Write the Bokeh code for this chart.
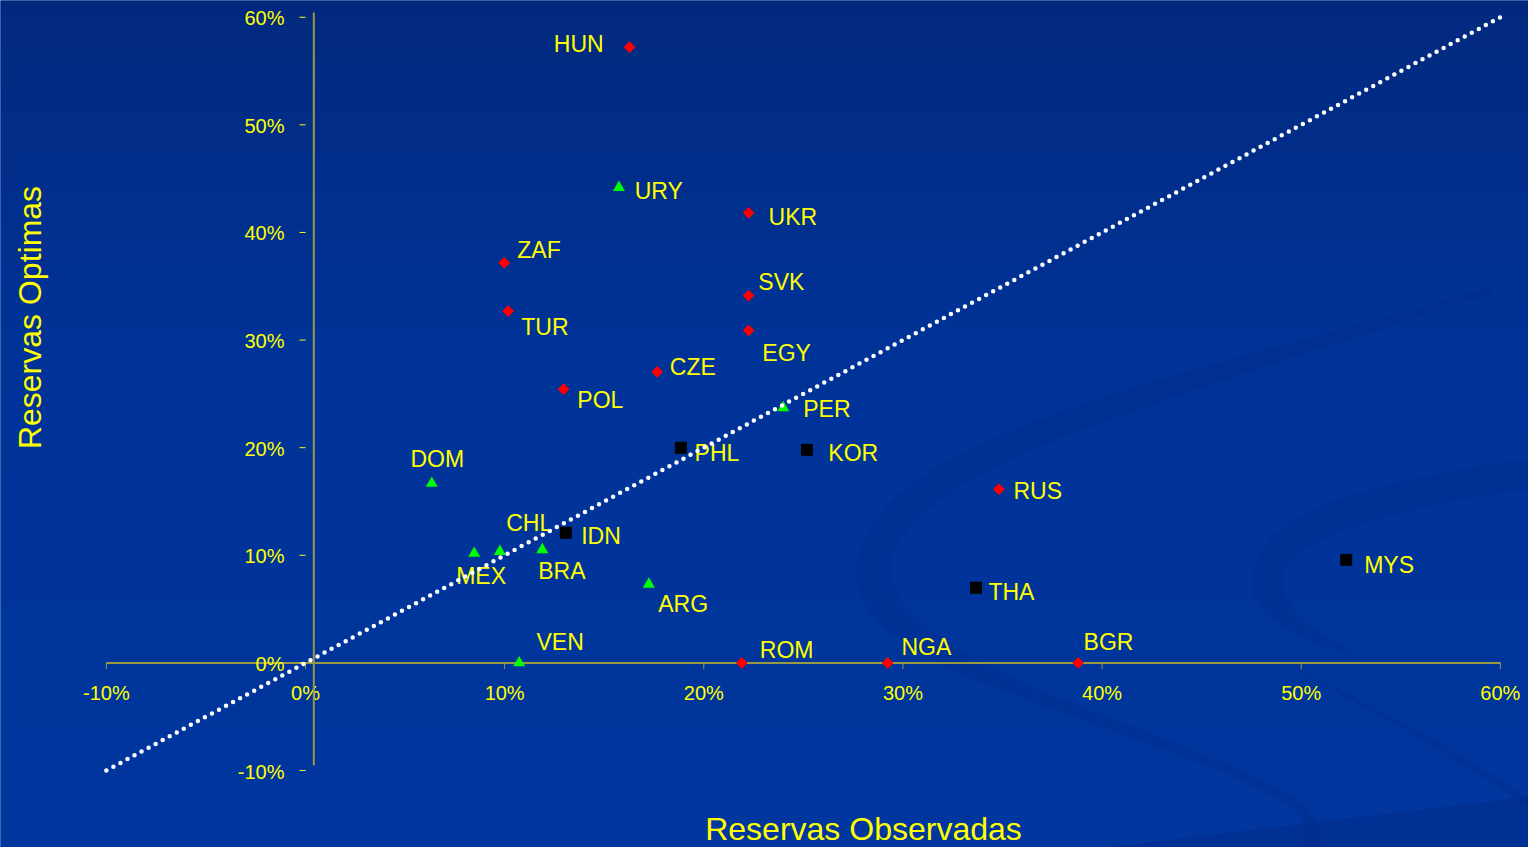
import numpy as np
from bokeh.plotting import figure
from bokeh.models import Range1d, ColumnDataSource
from bokeh.core.properties import value
from bokeh.embed import file_html
from bokeh.resources import INLINE

# Observed vs optimal reserves (% values), grouped by marker
red_codes = ["HUN", "UKR", "ZAF", "SVK", "TUR", "EGY", "CZE", "POL", "RUS", "ROM", "NGA", "BGR"]
red_obs = [16.27, 22.25, 9.98, 22.25, 10.18, 22.25, 17.66, 12.96, 34.82, 21.91, 29.23, 38.80]
red_opt = [57.22, 41.83, 37.18, 34.14, 32.69, 30.89, 27.05, 25.44, 16.14, 0.0, 0.0, 0.0]

green_codes = ["URY", "PER", "DOM", "MEX", "CHL", "BRA", "ARG", "VEN"]
green_obs = [15.74, 23.99, 6.34, 8.47, 9.76, 11.89, 17.24, 10.73]
green_opt = [44.18, 23.71, 16.68, 10.18, 10.35, 10.51, 7.31, 0.0]

black_codes = ["PHL", "KOR", "IDN", "THA", "MYS"]
black_obs = [18.85, 25.18, 13.07, 33.67, 52.26]
black_opt = [19.99, 19.80, 12.09, 6.98, 9.58]

x_ticks = [-10, 0, 10, 20, 30, 40, 50, 60]
x_tick_labels = ["-10%", "0%", "10%", "20%", "30%", "40%", "50%", "60%"]
y_ticks = [-10, 0, 10, 20, 30, 40, 50, 60]
y_tick_labels = ["-10%", "0%", "10%", "20%", "30%", "40%", "50%", "60%"]

x_title = "Reservas Observadas"
y_title = "Reservas Optimas"

# 45-degree reference line (optimal = observed)
ref_line = [-10, 60]

# ---- canvas geometry -------------------------------------------------------
W, H = 1528, 847
PX_PER_X, X0_PX = 19.914, 305.0
PX_PER_Y, Y0_PX = 10.761, 662.4
XS, XE = -X0_PX / PX_PER_X, (W - X0_PX) / PX_PER_X
YS, YE = -(H - Y0_PX) / PX_PER_Y, Y0_PX / PX_PER_Y


def px_x(px):
    return (np.asarray(px, dtype=float) - X0_PX) / PX_PER_X


def px_y(py):
    return (Y0_PX - np.asarray(py, dtype=float)) / PX_PER_Y


FONT = value("Liberation Sans")
YELLOW = "#FFFF00"
AXIS = "#9a9a44"

p = figure(width=W, height=H, x_range=Range1d(XS, XE), y_range=Range1d(YS, YE),
           output_backend="svg", toolbar_location=None,
           x_axis_type=None, y_axis_type=None, min_border=0,
           background_fill_color="#01318f", border_fill_color="#01318f",
           outline_line_color=None)

# ---- background: vertical gradient (slightly oversized to cover the edges) --
rows = np.arange(H, dtype=float)
stops_px = [0, 350, H]
stops_rgb = np.array([[2, 41, 126], [0, 51, 152], [0, 54, 158]], dtype=float)
rgb = np.stack([np.interp(rows, stops_px, stops_rgb[:, k]) for k in range(3)], axis=1)
img = np.zeros((H, 1, 4), dtype=np.uint8)
img[:, 0, :3] = rgb[::-1].round().astype(np.uint8)
img[:, 0, 3] = 255
pad_x, pad_y = 3 / PX_PER_X, 3 / PX_PER_Y
p.image_rgba(image=[img.view(np.uint32).reshape(H, 1)], x=XS - pad_x, y=YS - pad_y,
             dw=XE - XS + 2 * pad_x, dh=YE - YS + 2 * pad_y)


# ---- background: swirl ribbons ---------------------------------------------
def bez(p0, p1, p2, p3, n=80):
    t = np.linspace(0, 1, n)[:, None]
    p0, p1, p2, p3 = (np.array(v, dtype=float) for v in (p0, p1, p2, p3))
    return (1 - t) ** 3 * p0 + 3 * (1 - t) ** 2 * t * p1 + 3 * (1 - t) * t ** 2 * p2 + t ** 3 * p3


def ribbon(pts, widths):
    d = np.gradient(pts, axis=0)
    nrm = np.stack([-d[:, 1], d[:, 0]], axis=1)
    nrm /= np.linalg.norm(nrm, axis=1)[:, None]
    w = np.interp(np.linspace(0, 1, len(pts)), np.linspace(0, 1, len(widths)), widths)[:, None]
    poly = np.vstack([pts + nrm * w / 2, (pts - nrm * w / 2)[::-1]])
    return px_x(poly[:, 0]), px_y(poly[:, 1])


swirl_1 = np.vstack([
    bez((1490, 290), (1150, 395), (900, 450), (874, 560)),
    bez((874, 560), (852, 665), (1150, 720), (1290, 800)),
    bez((1290, 800), (1335, 830), (1310, 880), (1240, 910)),
])
swirl_2 = np.vstack([
    bez((1540, 472), (1330, 500), (1255, 540), (1268, 592)),
    bez((1268, 592), (1280, 620), (1320, 640), (1350, 652)),
])
swirl_3 = bez((1300, 672), (1400, 720), (1480, 770), (1540, 810))

for pts, widths in ((swirl_1, [6, 22, 30, 34, 14, 8, 12, 26, 30]),
                    (swirl_2, [30, 32, 30, 16, 3]),
                    (swirl_3, [2, 6, 8])):
    bx, by = ribbon(pts, widths)
    p.patch(bx, by, fill_color="#00267a", fill_alpha=0.22, line_color=None)

p.patch(px_x([1080, 1540, 1540]), px_y([850, 795, 850]),
        fill_color="#00267a", fill_alpha=0.3, line_color=None)

# ---- axes ------------------------------------------------------------------
p.segment(x0=[x_ticks[0]], y0=[0], x1=[x_ticks[-1]], y1=[0], line_color=AXIS, line_width=2)
p.segment(x0=x_ticks, y0=[0] * len(x_ticks), x1=x_ticks, y1=[float(px_y(Y0_PX + 6))] * len(x_ticks),
          line_color=AXIS, line_width=1)
p.text(x=x_ticks, y=[0] * len(x_ticks), text=x_tick_labels, y_offset=[29.6] * len(x_ticks),
       text_font=FONT, text_font_size="20px", text_color=YELLOW,
       text_align="center", text_baseline="middle")

yaxis_x = float(px_x(313.3))
p.segment(x0=[yaxis_x], y0=[float(px_y(765))], x1=[yaxis_x], y1=[float(px_y(12))],
          line_color=AXIS, line_width=2)
p.segment(x0=[float(px_x(299))] * len(y_ticks), y0=y_ticks, x1=[0] * len(y_ticks), y1=y_ticks,
          line_color=YELLOW, line_width=1)
p.text(x=[0] * len(y_ticks), y=y_ticks, text=y_tick_labels, x_offset=[-21] * len(y_ticks),
       y_offset=[1] * len(y_ticks),
       text_font=FONT, text_font_size="20px", text_color=YELLOW,
       text_align="right", text_baseline="middle")

# ---- axis titles -----------------------------------------------------------
p.text(x=[float(px_x(863))], y=[float(px_y(828))], text=[x_title],
       text_font=FONT, text_font_size="32px", text_color=YELLOW,
       text_align="center", text_baseline="middle")
p.text(x=[float(px_x(29.5))], y=[float(px_y(317))], text=[y_title], angle=np.pi / 2,
       text_font=FONT, text_font_size="32px", text_color=YELLOW,
       text_align="center", text_baseline="middle")

# ---- markers ---------------------------------------------------------------
p.scatter(red_obs, red_opt, marker="square", angle=np.pi / 4, size=8.3,
          fill_color="#FF0000", line_color=None)
p.scatter(green_obs, green_opt, marker="triangle", size=12,
          fill_color="#00FF00", line_color=None)
p.scatter(black_obs, black_opt, marker="square", size=12,
          fill_color="#000000", line_color=None)

# ---- country labels (offsets in px: start of text, centre of capitals) ------
label_offsets = {
    "HUN": (-75.7, -3.4), "UKR": (20, 4.7), "ZAF": (13, -13.3), "SVK": (9.7, -13.3),
    "TUR": (13, 16), "EGY": (13.7, 22.7), "CZE": (12.6, -4.6), "POL": (13.7, 10.6),
    "RUS": (14.6, 2), "ROM": (18, -12.7), "NGA": (13.8, -15.8), "BGR": (5.4, -20.8),
    "URY": (15.7, 3.7), "PER": (20, 1), "DOM": (-21.3, -24.6), "MEX": (-18, 22.4),
    "CHL": (6.4, -28.3), "BRA": (-4, 21.4), "ARG": (9.4, 19.6), "VEN": (17.3, -20.7),
    "PHL": (13.7, 5), "KOR": (21.4, 3), "IDN": (15.4, 3.7), "THA": (12.4, 4.7),
    "MYS": (18, 4.7),
}
codes = red_codes + green_codes + black_codes
lab = ColumnDataSource(dict(
    x=red_obs + green_obs + black_obs,
    y=red_opt + green_opt + black_opt,
    text=codes,
    dx=[label_offsets[c][0] for c in codes],
    dy=[label_offsets[c][1] for c in codes],
))
p.text(x="x", y="y", text="text", x_offset="dx", y_offset="dy", source=lab,
       text_font=FONT, text_font_size="23px", text_color=YELLOW,
       text_align="left", text_baseline="middle")

# ---- dotted 45-degree line -------------------------------------------------
p.line(ref_line, ref_line, line_color="white", line_width=4.5,
       line_dash="0 8", line_cap="round")

open("out.html", "w").write(file_html(p, INLINE))
